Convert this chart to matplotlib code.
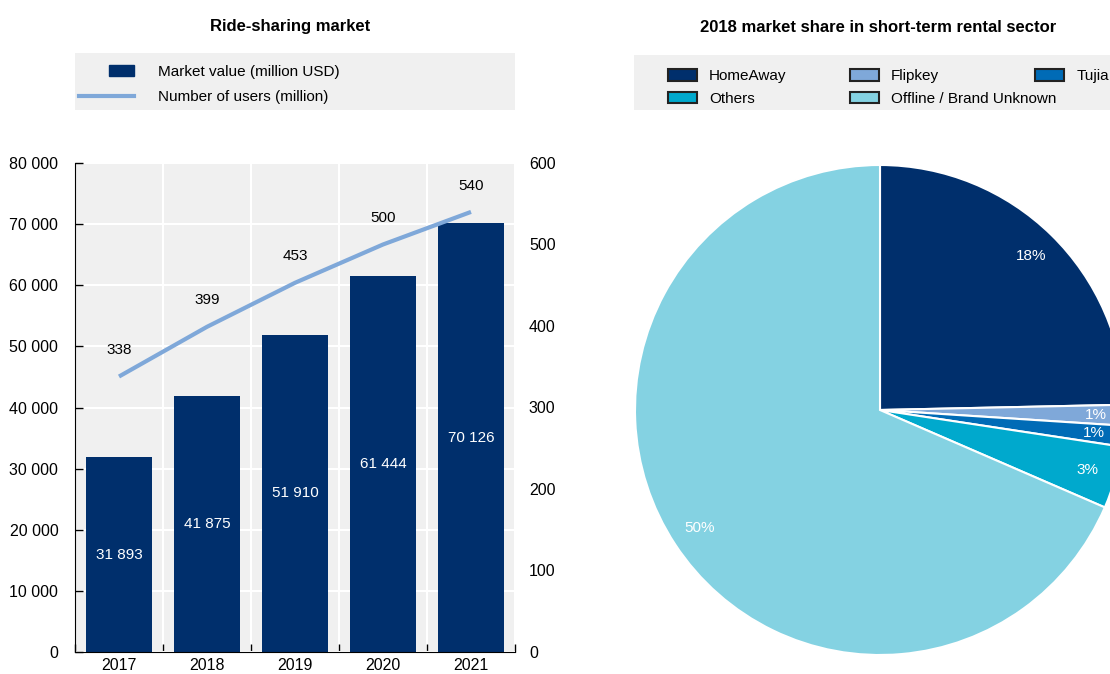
import matplotlib
matplotlib.use("Agg")
import matplotlib.pyplot as plt
import numpy as np
from matplotlib.patches import Rectangle
from matplotlib.lines import Line2D
from matplotlib.legend_handler import HandlerPatch

plt.rcParams['font.family'] = ['Liberation Sans', 'DejaVu Sans']
plt.rcParams['font.size'] = 11.5

# data
years = ["2017", "2018", "2019", "2020", "2021"]
market_value = [31893, 41875, 51910, 61444, 70126]
users = [338, 399, 453, 500, 540]

brands = ["HomeAway", "Flipkey", "Tujia", "Others", "Offline / Brand Unknown"]
shares = [18, 1, 1, 3, 50]
brand_colors = ["#002F6C", "#7FA8D9", "#006BB6", "#00A9CD", "#84D2E2"]

NAVY = "#002F6C"
LIGHT = "#7FA8D9"
GREY = "#F0F0F0"

W, H = 1110, 674
fig = plt.figure(figsize=(W / 100, H / 100), dpi=100)


def fbox(x0, y0, x1, y1):
    # pixel box (origin top-left) -> figure fraction [l, b, w, h]
    return [x0 / W, 1 - y1 / H, (x1 - x0) / W, (y1 - y0) / H]


def grey_band(x0, y0, x1, y1):
    l, b, w, h = fbox(x0, y0, x1, y1)
    fig.add_artist(Rectangle((l, b), w, h, transform=fig.transFigure,
                             facecolor=GREY, edgecolor='none', zorder=0))


def thin_box(legend, orig_handle, xdescent, ydescent, width, height, fontsize):
    # market value marker is shorter than the line marker
    w = width * 0.45
    return Rectangle((-xdescent + width - w, -ydescent), w, height)


# ---------------- left: ride-sharing market ----------------
ax = fig.add_axes(fbox(75, 163, 515, 652))
ax.set_facecolor(GREY)
x = np.arange(len(years))
bars = ax.bar(x, market_value, width=0.75, color=NAVY, zorder=2)
ax.bar_label(bars, labels=[f"{v:,}".replace(",", " ") for v in market_value],
             label_type='center', color='white', fontsize=11)

ax.set_xlim(-0.5, len(years) - 0.5)
ax.set_ylim(0, 80000)
ax.set_yticks(np.arange(0, 80001, 10000))
ax.yaxis.set_major_formatter(lambda v, p: f"{int(v):,}".replace(",", " "))
ax.set_xticks(x, years)
ax.set_xticks(np.arange(-0.5, len(years)), minor=True)
ax.tick_params(axis='x', which='major', length=0, pad=4)
ax.tick_params(axis='x', which='minor', direction='in', length=6, width=1)
ax.tick_params(axis='y', direction='in', length=6, width=1, pad=12)
ax.set_axisbelow(True)
ax.grid(axis='y', color='white', lw=1.5)
ax.grid(axis='x', which='minor', color='white', lw=1.5)
for s in ['top', 'right']:
    ax.spines[s].set_visible(False)

ax2 = ax.twinx()
ax2.plot(x, users, color=LIGHT, lw=3, solid_capstyle='butt')
ax2.set_ylim(0, 600)
ax2.set_yticks(np.arange(0, 601, 100))
ax2.tick_params(axis='y', length=0, pad=10)
for s in ax2.spines.values():
    s.set_visible(False)
for xi, u in zip(x, users):
    ax2.annotate(str(u), (xi, u), xytext=(0, 19), textcoords='offset points',
                 ha='center', va='center', fontsize=11)

grey_band(75, 53, 515, 110)
fig.legend([Rectangle((0, 0), 1, 1, color=NAVY), Line2D([], [], color=LIGHT, lw=3)],
           ["Market value (million USD)", "Number of users (million)"],
           handler_map={Rectangle: HandlerPatch(patch_func=thin_box)},
           loc='upper left', bbox_to_anchor=(79 / W, 1 - 65 / H), frameon=False,
           borderpad=0, borderaxespad=0, handlelength=3.6, handleheight=0.7,
           handletextpad=1.6, labelspacing=0.75, fontsize=11)
fig.text(290 / W, 1 - 27 / H, "Ride-sharing market", ha='center', va='center',
         fontsize=12, fontweight='bold')

# ---------------- right: short-term rental pie ----------------
pax = fig.add_axes(fbox(635, 165, 1125, 655))
wedges, texts, autotexts = pax.pie(
    shares, colors=brand_colors, startangle=90, counterclock=False,
    autopct=lambda p: f"{p * sum(shares) / 100:.0f}%", pctdistance=0.88,
    wedgeprops=dict(edgecolor='white', linewidth=1.5),
    textprops=dict(color='white', fontsize=11))
pax.set_xlim(-1, 1)
pax.set_ylim(-1, 1)
pax.set_aspect('equal')

grey_band(634, 55, 1110, 110)
col_x = [668, 850, 1035]
col_items = [[0, 3], [1, 4], [2]]
for cx, idx in zip(col_x, col_items):
    fig.legend([Rectangle((0, 0), 1, 1, facecolor=brand_colors[i], edgecolor='#222222', lw=1.5)
                for i in idx],
               [brands[i] for i in idx],
               loc='upper left', bbox_to_anchor=(cx / W, 1 - 69 / H), frameon=False,
               borderpad=0, borderaxespad=0, handlelength=1.9, handleheight=0.8,
               handletextpad=0.8, labelspacing=0.55, fontsize=11)
fig.text(878 / W, 1 - 27 / H, "2018 market share in short-term rental sector",
         ha='center', va='center', fontsize=12, fontweight='bold')

fig.savefig("out.png", dpi=100)
